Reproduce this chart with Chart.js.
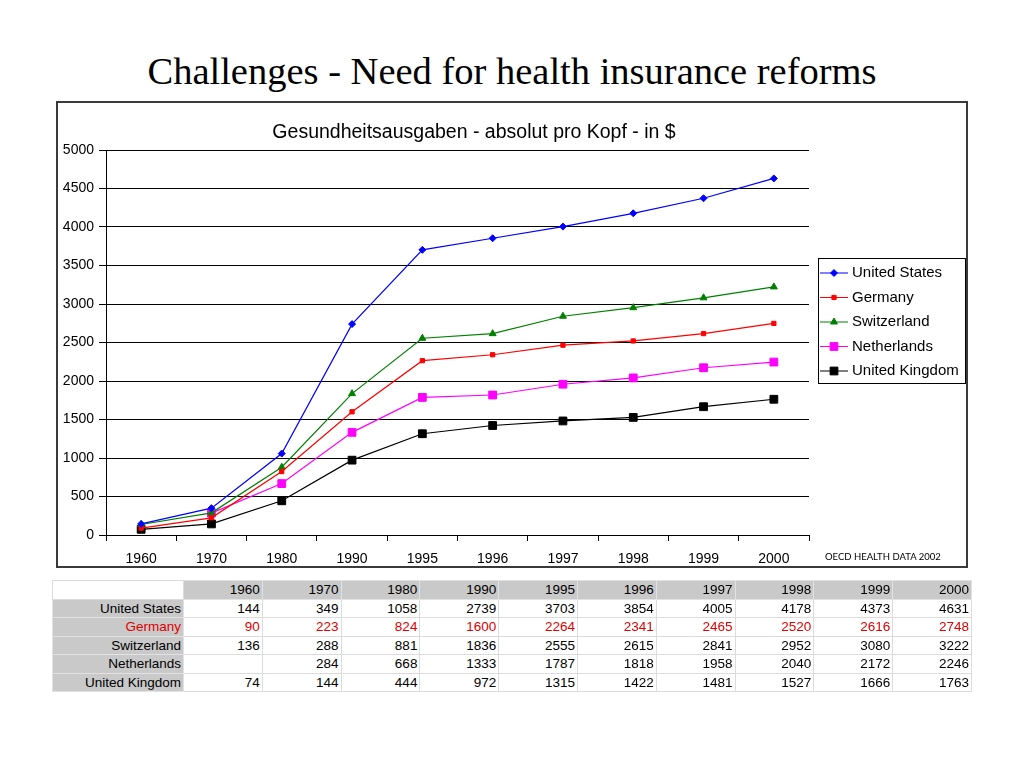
<!DOCTYPE html>
<html>
<head>
<meta charset="utf-8">
<script src="https://cdn.jsdelivr.net/npm/chart.js@4/dist/chart.umd.min.js"></script>
<style>
	html, body { margin: 0; padding: 0; background: #fff; }
	body { width: 1024px; height: 768px; position: relative; overflow: hidden; font-family: "Liberation Sans", Arial, sans-serif; }
	#title { position: absolute; left: 0; top: 49px; width: 1024px; text-align: center; font-family: "Liberation Serif", "Times New Roman", serif; font-size: 38.5px; color: #000; }
	#chartBox { position: absolute; left: 56px; top: 101px; width: 908px; height: 463px; border: 2px solid #3a3a3a; }
	#source { position: absolute; left: 825px; top: 551px; font-family: Lato, "Open Sans", sans-serif; font-size: 9.5px; color: #000; }
	#dataTable { position: absolute; left: 52px; top: 580px; width: 920px; table-layout: fixed; border-collapse: collapse; font-size: 13.5px; }
	#dataTable td { height: 17.5px; padding: 0 2px 0 0; text-align: right; border: 1px solid #dcdcdc; line-height: 17px; white-space: nowrap; overflow: hidden; }
	#dataTable td.lab { background: #c9c9c9; border-color: #e2e2e2; }
	#dataTable td.num { background: #fff; }
	#dataTable tr.head td { background: #c9c9c9; border-color: #e2e2e2; }
	#dataTable tr.head td.corner { background: #fff; border-color: #dcdcdc; }
</style>
</head>
<body>
<div id="title">Challenges - Need for health insurance reforms</div>
<div id="chartBox"><canvas id="myChart"></canvas></div>
<div id="source">OECD HEALTH DATA 2002</div>
<table id="dataTable"></table>

<script>
// --- Data (OECD Health Data 2002, per capita spending in $) ---
const years = ["1960", "1970", "1980", "1990", "1995", "1996", "1997", "1998", "1999", "2000"];
const unitedStates = [144, 349, 1058, 2739, 3703, 3854, 4005, 4178, 4373, 4631];
const germany = [90, 223, 824, 1600, 2264, 2341, 2465, 2520, 2616, 2748];
const switzerland = [136, 288, 881, 1836, 2555, 2615, 2841, 2952, 3080, 3222];
const netherlands = [null, 284, 668, 1333, 1787, 1818, 1958, 2040, 2172, 2246];
const unitedKingdom = [74, 144, 444, 972, 1315, 1422, 1481, 1527, 1666, 1763];

const seriesNames = ["United States", "Germany", "Switzerland", "Netherlands", "United Kingdom"];
const seriesValues = [unitedStates, germany, switzerland, netherlands, unitedKingdom];
const seriesColors = ["#0000ff", "#ff0000", "#008000", "#ff00ff", "#000000"];
const seriesPoints = ["rectRot", "rect", "triangle", "rect", "rect"];
const pointSizes = [3.5, 3, 4, 5.5, 5.5];
const tableTextColors = ["#000", "#e00000", "#000", "#000", "#000"];

const chartTitle = "Gesundheitsausgaben - absolut pro Kopf - in $";
const FONT = "'Liberation Sans', Arial, sans-serif";

// --- Table under the chart ---
function buildTable() {
	const table = document.getElementById("dataTable");
	let html = '<colgroup><col style="width:131px">';
	years.forEach(() => (html += "<col>"));
	html += '</colgroup><tr class="head"><td class="lab corner"></td>';
	years.forEach((y) => (html += `<td class="num">${y}</td>`));
	html += "</tr>";
	seriesNames.forEach((name, i) => {
		const c = tableTextColors[i];
		html += `<tr><td class="lab" style="color:${c}">${name}</td>`;
		seriesValues[i].forEach((v) => (html += `<td class="num" style="color:${c}">${v == null ? "" : v}</td>`));
		html += "</tr>";
	});
	table.innerHTML = html;
}

// --- Title + legend drawn by hand so they sit where the original ones are ---
const boxLegend = {
	id: "boxLegend",
	afterDraw(chart) {
		const ctx = chart.ctx;
		ctx.save();
		// chart title (centred over plot + legend, not just the plot)
		ctx.font = "19.5px " + FONT;
		ctx.fillStyle = "#000";
		ctx.textAlign = "center";
		ctx.textBaseline = "middle";
		ctx.fillText(chartTitle, 416, 30);

		const x0 = 760, y0 = 155, w = 147, h = 125;
		ctx.strokeStyle = "#000";
		ctx.lineWidth = 1;
		ctx.strokeRect(x0 + 0.5, y0 + 0.5, w, h);
		ctx.font = "15px " + FONT;
		ctx.textAlign = "left";
		seriesNames.forEach((name, i) => {
			const y = y0 + 15 + i * 24.5;
			ctx.strokeStyle = seriesColors[i];
			ctx.beginPath();
			ctx.moveTo(x0 + 2, y);
			ctx.lineTo(x0 + 30, y);
			ctx.stroke();
			ctx.fillStyle = seriesColors[i];
			Chart.helpers.drawPoint(ctx, { pointStyle: seriesPoints[i], radius: pointSizes[i], rotation: 0, borderWidth: 1 }, x0 + 16, y);
			ctx.fillStyle = "#000";
			ctx.fillText(name, x0 + 34, y);
		});
		ctx.restore();
	},
};

function createChart() {
	const ctx = document.getElementById("myChart").getContext("2d");
	return new Chart(ctx, {
		type: "line",
		data: {
			labels: years,
			datasets: seriesNames.map((name, i) => ({
				label: name,
				data: seriesValues[i],
				borderColor: seriesColors[i],
				backgroundColor: seriesColors[i],
				borderWidth: 1.2,
				pointStyle: seriesPoints[i],
				pointRadius: pointSizes[i],
				pointBorderWidth: 1,
				tension: 0,
				fill: false,
			})),
		},
		options: {
			responsive: true,
			maintainAspectRatio: false,
			animation: false,
			layout: { padding: { left: 0, right: 157, top: 47, bottom: 0 } },
			plugins: {
				legend: { display: false },
				tooltip: { enabled: false },
				title: { display: false },
			},
			scales: {
				x: {
					offset: true,
					grid: { display: true, drawOnChartArea: false, drawTicks: true, offset: true, tickLength: 6, color: "#000" },
					border: { color: "#000" },
					ticks: { color: "#000", font: { family: FONT, size: 14 }, padding: 10, maxRotation: 0 },
					afterFit: (scale) => (scale.height = 31),
				},
				y: {
					min: 0,
					max: 5000,
					ticks: {
						stepSize: 500,
						color: "#000",
						font: { family: FONT, size: 14 },
						padding: 5,
						callback: (value) => String(value),
					},
					grid: { color: "#000", tickLength: 7 },
					border: { color: "#000" },
					afterFit: (scale) => (scale.width = 48),
				},
			},
		},
		plugins: [boxLegend],
	});
}

window.addEventListener("DOMContentLoaded", () => {
	buildTable();
	createChart();
});
</script>
</body>
</html>
